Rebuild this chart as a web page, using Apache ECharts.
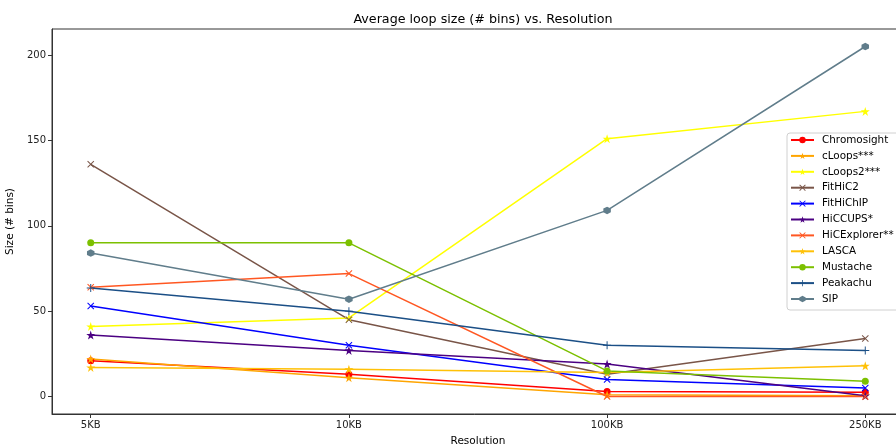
<!DOCTYPE html>
<html>
<head>
<meta charset="utf-8">
<script src="https://cdn.jsdelivr.net/npm/echarts@6/dist/echarts.min.js"></script>
<style>
  html, body { margin: 0; padding: 0; background: #fff; }
  #chart { width: 896px; height: 447px; }
</style>
</head>
<body>
<div id="chart"></div>
<script>
var resolutions = ['5KB', '10KB', '100KB', '250KB'];

var chromosight = [21, 13, 3, 2.5];
var cloops = [22, 11, 1, 0.5];
var cloops2 = [41, 46, 151, 167];
var fithic2 = [136, 45, 13, 34];
var fithichip = [53, 30, 10, 5];
var hiccups = [36, 27, 19, 0.5];
var hicexplorer = [64, 72, 0, 0];
var lasca = [17, 16, 14, 18];
var mustache = [90, 90, 15, 9];
var peakachu = [63.5, 50, 30, 27];
var sip = [84, 57, 109, 205];

var STAR = 'path://M5,0 L6.117,3.463 L9.755,3.455 L6.807,5.587 L7.939,9.045 L5,6.9 L2.061,9.045 L3.193,5.587 L0.245,3.455 L3.883,3.463 Z';
var XMARK = 'path://M1,0 L5,4 L9,0 L10,1 L6,5 L10,9 L9,10 L5,6 L1,10 L0,9 L4,5 L0,1 Z';
var PLUS = 'path://M4.4,0 H5.6 V4.4 H10 V5.6 H5.6 V10 H4.4 V5.6 H0 V4.4 H4.4 Z';
var HEX = 'path://M5,0 L9.33,2.5 L9.33,7.5 L5,10 L0.67,7.5 L0.67,2.5 Z';

var seriesDefs = [
  { name: 'Chromosight', data: chromosight, color: '#ff0000', symbol: 'circle', size: 7 },
  { name: 'cLoops***', data: cloops, color: '#ffa500', symbol: STAR, size: 9 },
  { name: 'cLoops2***', data: cloops2, color: '#ffff00', symbol: STAR, size: 9 },
  { name: 'FitHiC2', data: fithic2, color: '#795548', symbol: XMARK, size: 7 },
  { name: 'FitHiChIP', data: fithichip, color: '#0000ff', symbol: XMARK, size: 7 },
  { name: 'HiCCUPS*', data: hiccups, color: '#4b0082', symbol: STAR, size: 9 },
  { name: 'HiCExplorer**', data: hicexplorer, color: '#ff5722', symbol: XMARK, size: 7 },
  { name: 'LASCA', data: lasca, color: '#ffc107', symbol: STAR, size: 9 },
  { name: 'Mustache', data: mustache, color: '#7cc000', symbol: 'circle', size: 7 },
  { name: 'Peakachu', data: peakachu, color: '#1b4f86', symbol: PLUS, size: 8 },
  { name: 'SIP', data: sip, color: '#607d8b', symbol: HEX, size: 7.5 }
];

var series = seriesDefs.map(function(d) {
  return {
    name: d.name,
    type: 'line',
    data: d.data.map(function(v, i) { return [i, v]; }),
    symbol: d.symbol,
    symbolSize: d.size,
    showAllSymbol: true,
    color: d.color,
    lineStyle: { width: 1.5, color: d.color },
    itemStyle: { color: d.color },
    animation: false,
    emphasis: { disabled: true }
  };
});

var myChart = echarts.init(document.getElementById('chart'));
var option = {
  backgroundColor: '#fff',
  animation: false,
  title: {
    text: 'Average loop size (# bins) vs. Resolution',
    left: 478,
    textAlign: 'center',
    top: 8,
    textStyle: { fontFamily: 'DejaVu Sans', fontSize: 12.7, fontWeight: 'normal', color: '#000' }
  },
  legend: {
    orient: 'vertical',
    left: 787,
    top: 133,
    padding: [2, 8, 6, 3],
    itemGap: 5.9,
    itemWidth: 23,
    itemHeight: 8,
    borderColor: '#d0d0d0',
    borderWidth: 1,
    borderRadius: 3,
    backgroundColor: '#fff',
    textStyle: { fontFamily: 'DejaVu Sans', fontSize: 10.4, color: '#000', padding: [0, 0, 0, 3] },
    data: seriesDefs.map(function(d) { return d.name; })
  },
  grid: {
    left: 52,
    top: 29,
    width: 852,
    height: 385,
    outerBoundsMode: 'none',
    containLabel: false,
    show: true,
    borderColor: '#333',
    borderWidth: 1
  },
  xAxis: {
    type: 'value',
    min: -0.15,
    max: 3.15,
    name: 'Resolution',
    nameLocation: 'middle',
    nameGap: 22,
    nameTextStyle: { fontFamily: 'DejaVu Sans', fontSize: 10.5, color: '#000' },
    axisLine: { show: true, onZero: false, lineStyle: { color: '#333' } },
    axisTick: { show: true, length: 4, lineStyle: { color: '#333' }, customValues: [0, 1, 2, 3] },
    axisLabel: {
      fontFamily: 'DejaVu Sans', fontSize: 10, color: '#222', margin: 6,
      customValues: [0, 1, 2, 3],
      formatter: function(v) { return resolutions[Math.round(v)]; }
    },
    splitLine: { show: false }
  },
  yAxis: {
    type: 'value',
    min: -10.25,
    max: 215.25,
    name: 'Size (# bins)',
    nameLocation: 'middle',
    nameGap: 30,
    nameTextStyle: { fontFamily: 'DejaVu Sans', fontSize: 10.5, color: '#000' },
    axisLine: { show: true, onZero: false, lineStyle: { color: '#333' } },
    axisTick: { show: true, length: 4, lineStyle: { color: '#333' }, customValues: [0, 50, 100, 150, 200] },
    axisLabel: {
      fontFamily: 'DejaVu Sans', fontSize: 10, color: '#222', margin: 6,
      customValues: [0, 50, 100, 150, 200]
    },
    splitLine: { show: false }
  },
  series: series
};
myChart.setOption(option);
</script>
</body>
</html>
